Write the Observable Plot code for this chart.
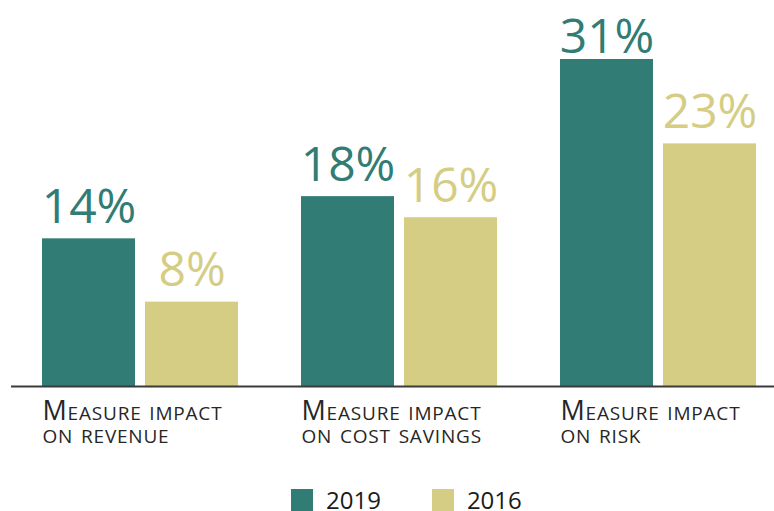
<!DOCTYPE html>
<html>
<head>
<meta charset="utf-8">
<script src="https://cdn.jsdelivr.net/npm/d3@7"></script>
<script src="https://cdn.jsdelivr.net/npm/@observablehq/plot@0.6"></script>
<style>
  html, body { margin: 0; padding: 0; background: #fff; }
  body { width: 774px; height: 511px; overflow: hidden; font-family: "Open Sans", sans-serif; }
  svg { display: block; }
  g[font-variant="small-caps"] { letter-spacing: 0.8px; }
  #legend { display: flex; align-items: center; height: 36px; box-sizing: border-box; padding-top: 14px; padding-left: 291px; font-size: 24px; line-height: 22px; color: #1a1a1a; }
  #legend .item { display: flex; align-items: center; margin-right: 51px; }
  #legend .sw { width: 22px; height: 22px; margin-right: 13px; }
</style>
</head>
<body>
<div id="chart"></div>
<div id="legend"></div>
<script>
const categories = ["Measure impact\non revenue", "Measure impact\non cost savings", "Measure impact\non risk"];
const years = ["2019", "2016"];
const values2019 = [14, 18, 31];
const values2016 = [8, 16, 23];
const colors = ["#317c74", "#d5cd84"];

const data = categories.flatMap((c, i) => [
  {category: c, year: years[0], value: values2019[i]},
  {category: c, year: years[1], value: values2016[i]}
]);
const maxValue = d3.max(data, d => d.value);

const labelOpts = {fx: "category", x: "year", y: "value", text: d => d.value + "%", fill: "year", lineAnchor: "bottom", fontSize: 48};

const chart = Plot.plot({
  width: 774,
  height: 475,
  marginTop: 59,
  marginBottom: 89,
  marginLeft: 41,
  marginRight: 17,
  style: {fontFamily: "'Open Sans', sans-serif", background: "#fff"},
  fx: {domain: categories, paddingInner: 0.2394, paddingOuter: 0, axis: null, label: null},
  x: {domain: years, paddingInner: 0.096, paddingOuter: 0, axis: null},
  y: {domain: [0, maxValue], axis: null},
  color: {domain: years, range: colors},
  marks: [
    Plot.barY(data, {fx: "category", x: "year", y: "value", fill: "year"}),
    Plot.text(data.filter(d => d.value < maxValue), {...labelOpts, dy: -16}),
    Plot.text(data.filter(d => d.value === maxValue), {...labelOpts, dy: -7}),
    Plot.ruleY([0], {stroke: "#3a3a3a", strokeWidth: 2, insetLeft: -31, insetRight: -31}),
    Plot.text(categories, {fx: d => d, text: d => d, frameAnchor: "bottom-left", textAnchor: "start", lineAnchor: "top", dy: 17, fontSize: 27, fontVariant: "small-caps", lineHeight: 0.85, fill: "#262626"})
  ]
});
document.getElementById("chart").appendChild(chart);

const legend = document.getElementById("legend");
years.forEach((y, i) => {
  const item = document.createElement("div");
  item.className = "item";
  const sw = document.createElement("div");
  sw.className = "sw";
  sw.style.background = colors[i];
  const t = document.createElement("span");
  t.textContent = y;
  item.appendChild(sw);
  item.appendChild(t);
  legend.appendChild(item);
});
</script>
</body>
</html>
